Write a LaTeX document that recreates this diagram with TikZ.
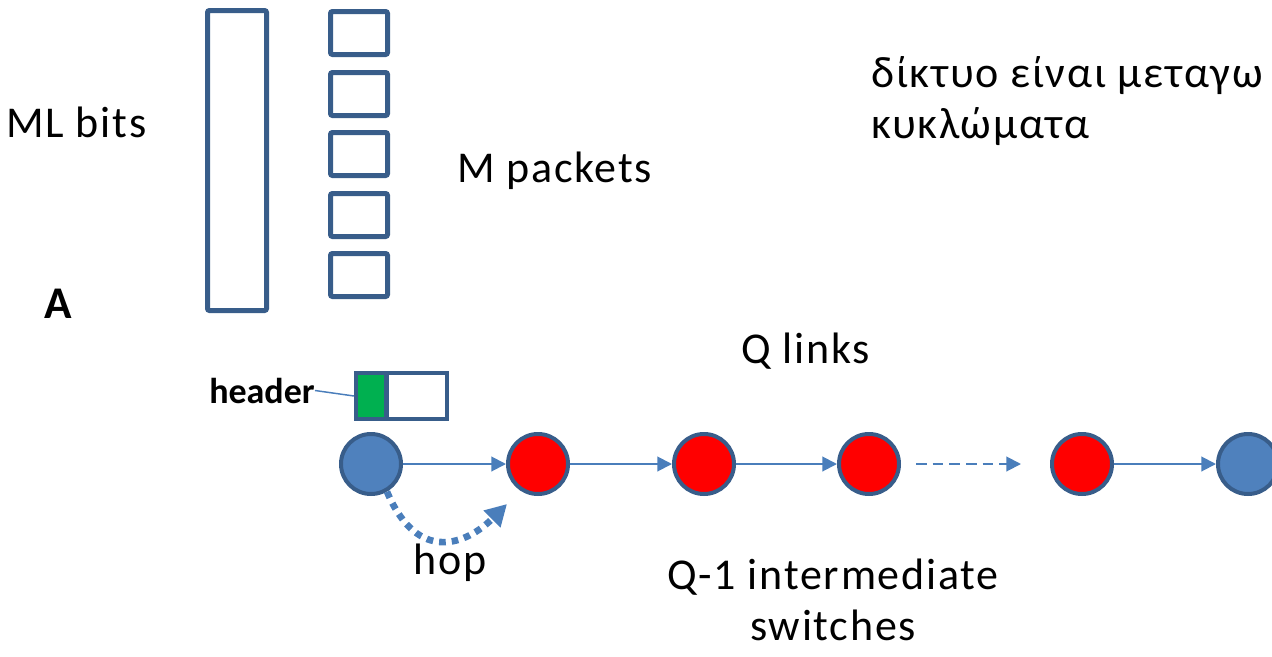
\documentclass[tikz,border=0pt]{standalone}
\usepackage{fontspec}
\setmainfont{Carlito}[LetterSpace=4]
\newfontfamily\plainfont{Carlito}
\usepackage{tikz}
\usetikzlibrary{arrows.meta,positioning}
\definecolor{myblue}{RGB}{79,129,189}
\definecolor{mynavy}{RGB}{56,93,138}
\definecolor{myline}{RGB}{74,126,187}
\definecolor{myred}{RGB}{255,0,0}
\definecolor{mygreen}{RGB}{0,176,80}
\tikzstyle{vertex}=[draw=mynavy,line width=3pt,fill=myblue,circle,minimum size=45pt,inner sep=0pt]
\tikzstyle{bitbox}=[draw=mynavy,line width=3.75pt,rectangle,rounded corners=1.5pt,inner sep=0pt]
\tikzstyle{label}=[anchor=base west,inner sep=0pt,font=\fontsize{33}{38}\selectfont]
\tikzstyle{link}=[myline,line width=1.5pt,-{Triangle[length=11pt,width=11pt]}]

\begin{document}
\begin{tikzpicture}[x=0.75pt,y=-0.75pt]
\useasboundingbox (0,0) rectangle (1272,657);
% message and packets
\draw (237,160.5) node [bitbox, minimum width=44.25pt, minimum height=225pt] (msg) {};
\foreach \i/\y in {1/33,2/94,3/154,4/215,5/275}
  \draw (359,\y) node [bitbox, minimum width=42.75pt, minimum height=32.25pt] (p\i) {};
\draw (6,137) node [label] (mlbits) {ML bits};
\draw (457,182) node [label] (mpkts) {M packets};
\draw (871,138) node [label, align=left] (greek) {δίκτυο είναι μεταγω\\κυκλώματα};
\draw (44,318) node [label, font=\plainfont\bfseries\fontsize{34}{40}\selectfont] (lblA) {A};
% packet with header
\draw (371.25,396) node [bitbox, line width=3pt, rounded corners=0pt, fill=mygreen, minimum width=22.9pt, minimum height=34.5pt] (hdr) {};
\draw (416.75,396) node [bitbox, line width=3pt, rounded corners=0pt, minimum width=45.4pt, minimum height=34.5pt] (body) {};
\draw (209,403) node [label, font=\plainfont\bfseries\fontsize{27}{32}\selectfont] (hdrtxt) {header};
\draw [myline, line width=1.1pt] (hdrtxt.east) -- (hdr.west);
% path of switches
\draw (371,464) node [vertex] (v1) {};
\draw (538,464) node [vertex, fill=myred] (v2) {};
\draw (704,464) node [vertex, fill=myred] (v3) {};
\draw (869,464) node [vertex, fill=myred] (v4) {};
\draw (1082,464) node [vertex, fill=myred] (v5) {};
\draw (1248,464) node [vertex] (v6) {};
\draw [link] (v1) -- (v2);
\draw [link] (v2) -- (v3);
\draw [link] (v3) -- (v4);
\draw [link, dash pattern=on 8pt off 4.5pt, shorten <=11.25pt, shorten >=21.75pt] (v4) -- (v5);
\draw [link] (v5) -- (v6);
\draw (741,363) node [label] (qlinks) {Q links};
% hop
\coordinate (hoptip) at (507,504);
\draw [myline, line width=5pt, dash pattern=on 5pt off 4.5pt, -{Triangle[length=16pt,width=17pt]}]
  (v1.300) .. controls (418,565) and (467,544) .. (hoptip);
\draw (413,574) node [label] (hop) {hop};
\draw (833,640) node [label, anchor=base, align=center] (qsw) {Q-1 intermediate\\switches};
\end{tikzpicture}
\end{document}
